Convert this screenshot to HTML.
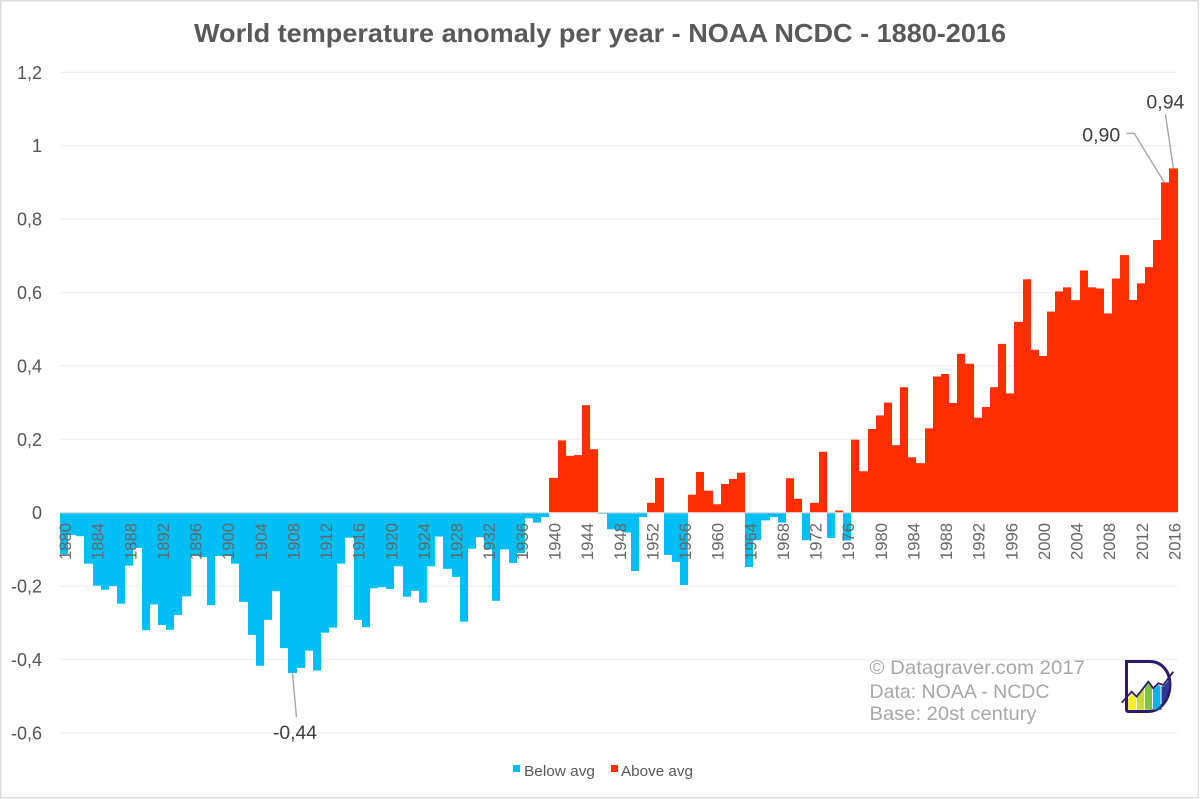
<!DOCTYPE html>
<html lang="en">
<head>
<meta charset="utf-8">
<title>World temperature anomaly per year</title>
<style>
html,body{margin:0;padding:0;background:#fff;}
body{width:1200px;height:799px;overflow:hidden;}
svg{display:block;font-family:"Liberation Sans","DejaVu Sans",sans-serif;}
</style>
</head>
<body>
<svg id="chart" xmlns="http://www.w3.org/2000/svg" width="1200" height="799" viewBox="0 0 1200 799">
  <rect x="0.75" y="0.75" width="1197.5" height="797" fill="#fff" stroke="#dcdcdc" stroke-width="1.5"/>
  <text x="194" y="42" font-size="26" font-weight="bold" fill="#595959" textLength="812" lengthAdjust="spacingAndGlyphs">World temperature anomaly per year - NOAA NCDC - 1880-2016</text>
  <g id="grid"></g>
  <g id="bars"></g>
  <g id="yticks"></g>
  <g id="xticks"></g>
  <g id="callouts"></g>
  <g>
    <g>
      <rect x="513" y="765" width="7" height="7" fill="#00bff7"/>
      <text x="524" y="776" font-size="14.5" fill="#595959" textLength="71" lengthAdjust="spacingAndGlyphs">Below avg</text>
    </g>
    <g>
      <rect x="611" y="765" width="7" height="7" fill="#ff2e00"/>
      <text x="621" y="776" font-size="14.5" fill="#595959" textLength="72" lengthAdjust="spacingAndGlyphs">Above avg</text>
    </g>
  </g>
  <g font-size="19.5" fill="#a8a8a8">
    <text x="869.500" y="674" textLength="215.500" lengthAdjust="spacingAndGlyphs">© Datagraver.com 2017</text>
    <text x="869.500" y="698" textLength="180" lengthAdjust="spacingAndGlyphs">Data: NOAA - NCDC</text>
    <text x="869.500" y="720" textLength="167" lengthAdjust="spacingAndGlyphs">Base: 20st century</text>
  </g>
  <g>
    <path d="M1126.500 661.500 H1150 C1162 661.500 1170 672 1170 684 C1170 700 1160 711.500 1148 711.500 H1128.500 Q1126.500 711.500 1126.500 709.500 Z" fill="#fff" stroke="#2d1b69" stroke-width="3"/>
    <polygon points="1128,699 1131.700,693.500 1136,697.500 1136,709.800 1128,709.800" fill="#f4ee2a"/>
    <polygon points="1137,697 1144.200,688 1144.200,709.800 1137,709.800" fill="#c9dc34"/>
    <polygon points="1145,687 1148.300,683.500 1152,688 1152,709.800 1145,709.800" fill="#7fc243"/>
    <polygon points="1153,689.500 1158.300,685 1160.500,686 1160.500,709.800 1153,709.800" fill="#0fb2ea"/>
    <path d="M1161.500 686 L1163.500 686.500 L1169.500 679 C1170 692 1165 704 1155 709.800 H1161.500 Z" fill="#2a3a92"/>
    <polyline points="1121.700,702.700 1131.700,691.700 1136.700,696.700 1148.300,681.700 1153.300,688.300 1158.300,683.300 1163.300,685 1173.300,671.700" fill="none" stroke="#2d1b69" stroke-width="1.8"/>
  </g>
</svg>
<script>
const startYear = 1880;
const values = [
 -0.113,-0.061,-0.064,-0.139,-0.199,-0.21,-0.2,-0.248,-0.144,-0.096,
 -0.32,-0.25,-0.306,-0.319,-0.279,-0.228,-0.115,-0.121,-0.252,-0.118,
 -0.118,-0.139,-0.243,-0.333,-0.417,-0.292,-0.214,-0.369,-0.437,-0.423,
 -0.376,-0.43,-0.327,-0.313,-0.139,-0.068,-0.292,-0.312,-0.206,-0.203,
 -0.208,-0.146,-0.229,-0.213,-0.245,-0.146,-0.065,-0.153,-0.175,-0.297,
 -0.098,-0.067,-0.1,-0.24,-0.1,-0.137,-0.11,-0.015,-0.027,-0.012,
 0.095,0.197,0.155,0.157,0.293,0.173,-0.003,-0.045,-0.048,-0.054,
 -0.159,-0.012,0.027,0.095,-0.115,-0.134,-0.197,0.049,0.111,0.06,
 0.023,0.078,0.092,0.109,-0.148,-0.075,-0.021,-0.012,-0.027,0.094,
 0.038,-0.075,0.027,0.166,-0.069,0.006,-0.076,0.199,0.113,0.228,
 0.265,0.3,0.184,0.342,0.151,0.135,0.23,0.371,0.378,0.299,
 0.433,0.406,0.259,0.288,0.342,0.46,0.325,0.52,0.636,0.444,
 0.427,0.548,0.603,0.614,0.579,0.66,0.614,0.611,0.543,0.638,
 0.702,0.58,0.625,0.669,0.743,0.9,0.938
];
const yTickValues = [1.2,1,0.8,0.6,0.4,0.2,0,-0.2,-0.4,-0.6];
const yTickLabels = ["1,2","1","0,8","0,6","0,4","0,2","0","-0,2","-0,4","-0,6"];
const xTickYears = [1880,1884,1888,1892,1896,1900,1904,1908,1912,1916,1920,1924,1928,1932,1936,1940,1944,1948,1952,1956,1960,1964,1968,1972,1976,1980,1984,1988,1992,1996,2000,2004,2008,2012,2016];
const calloutYears = [1908,2015,2016];
const calloutLabels = ["-0,44","0,90","0,94"];

const NS = "http://www.w3.org/2000/svg";
const plotLeft = 60, plotRight = 1177.5, zeroY = 512.7, unitPx = 367;
const barW = (plotRight - plotLeft) / values.length;
function xScale(i){ return plotLeft + i * barW; }
function yScale(v){ return zeroY - v * unitPx; }
function mk(tag, attrs, parent){
  const el = document.createElementNS(NS, tag);
  for (const k in attrs) el.setAttribute(k, attrs[k]);
  parent.appendChild(el);
  return el;
}

const grid = document.getElementById("grid");
yTickValues.forEach(function(v){
  const line = mk("line", {x1:plotLeft, x2:plotRight, y1:yScale(v), y2:yScale(v), stroke: v === 0 ? "#dddddd" : "#f0f0f0", "stroke-width":1.4}, grid);
  
  
});

const barsG = document.getElementById("bars");
values.forEach(function(v, i){
  const x0 = Math.round(xScale(i)), x1 = Math.round(xScale(i + 1));
  const top = v >= 0 ? yScale(v) : zeroY + 0.6;
  const h = v >= 0 ? zeroY - 0.6 - yScale(v) : yScale(v) - zeroY - 0.6;
  const r = mk("rect", {x:x0, y:top, width:x1 - x0, height:Math.max(h, 0.4), fill: v >= 0 ? "#ff2e00" : "#00bff7"}, barsG);
  
  
});

const yG = document.getElementById("yticks");
yTickValues.forEach(function(v, i){
  const t = mk("text", {x:42, y:yScale(v) + 6.5, "text-anchor":"end", "font-size":18, fill:"#555555"}, yG);
  
  
  t.textContent = yTickLabels[i];
});

const xG = document.getElementById("xticks");
xTickYears.forEach(function(yr){
  const cx = xScale(yr - startYear) + barW / 2 + 1.5;
  const t = mk("text", {transform:"translate(" + (cx + 5.5) + ",560) rotate(-90)", "font-size":16.5, fill:"#666666", textLength:37, lengthAdjust:"spacingAndGlyphs"}, xG);
  
  
  t.textContent = String(yr);
});

const cG = document.getElementById("callouts");
function anchorOf(yr){
  const i = yr - startYear;
  return {x: xScale(i) + barW / 2, y: yScale(values[i])};
}
const lowA = anchorOf(calloutYears[0]);
const midA = anchorOf(calloutYears[1]);
const topA = anchorOf(calloutYears[2]);
const leaderLow = mk("polyline", {points: lowA.x + "," + lowA.y + " " + (lowA.x + 4) + "," + (lowA.y + 44), fill:"none", stroke:"#a6a6a6", "stroke-width":1.4}, cG);


const leaderMid = mk("polyline", {points: (midA.x - 1) + "," + midA.y + " " + (midA.x - 31) + "," + (midA.y - 49) + " " + (midA.x - 39) + "," + (midA.y - 49), fill:"none", stroke:"#a6a6a6", "stroke-width":1.4}, cG);


const leaderTop = mk("polyline", {points: topA.x + "," + topA.y + " " + (topA.x - 8) + "," + (topA.y - 54), fill:"none", stroke:"#a6a6a6", "stroke-width":1.4}, cG);



const lowLabel = mk("text", {x: lowA.x + 2.5, y: lowA.y + 66, "text-anchor":"middle", "font-size":19.5, fill:"#404040", textLength:44, lengthAdjust:"spacingAndGlyphs"}, cG);


lowLabel.textContent = calloutLabels[0];
const midLabel = mk("text", {x: midA.x - 83, y: midA.y - 41, "font-size":19.5, fill:"#404040", textLength:38, lengthAdjust:"spacingAndGlyphs"}, cG);


midLabel.textContent = calloutLabels[1];
const topLabel = mk("text", {x: topA.x - 27, y: topA.y - 60, "font-size":19.5, fill:"#404040", textLength:38, lengthAdjust:"spacingAndGlyphs"}, cG);


topLabel.textContent = calloutLabels[2];
</script>
</body>
</html>
